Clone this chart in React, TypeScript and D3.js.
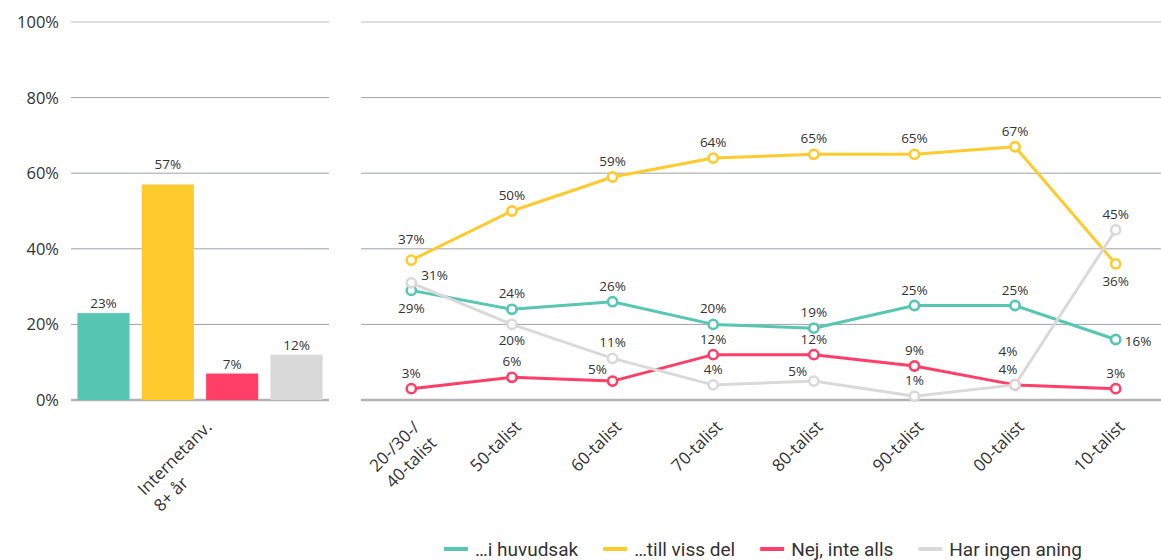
import React, { useEffect, useRef } from "react";
import * as d3 from "d3";

const W = 1161;
const H = 560;

const seriesNames = ["…i huvudsak", "…till viss del", "Nej, inte alls", "Har ingen aning"];
const seriesColors = ["#57C6B3", "#FFCA2E", "#FF3F68", "#D9D9D9"];

const barCategory = ["Internetanv.", "8+ år"];
const barValues = [23, 57, 7, 12];

const decades = ["20-/30-/\n40-talist", "50-talist", "60-talist", "70-talist", "80-talist", "90-talist", "00-talist", "10-talist"];
const iHuvudsak = [29, 24, 26, 20, 19, 25, 25, 16];
const tillVissDel = [37, 50, 59, 64, 65, 65, 67, 36];
const nejInteAlls = [3, 6, 5, 12, 12, 9, 4, 3];
const harIngenAning = [31, 20, 11, 4, 5, 1, 4, 45];
const lineSeries = [iHuvudsak, tillVissDel, nejInteAlls, harIngenAning];

const yTicks = [0, 20, 40, 60, 80, 100];

// label placement overrides (styling): key "series-index"
const labelOverrides: Record<string, { dx: number; dy: number; anchor: string }> = {
  "0-0": { dx: 0, dy: 23, anchor: "middle" },
  "1-0": { dx: 0, dy: -16, anchor: "middle" },
  "3-0": { dx: 10, dy: -3, anchor: "start" },
  "3-1": { dx: 0, dy: 21, anchor: "middle" },
  "2-2": { dx: -15, dy: -7, anchor: "middle" },
  "3-4": { dx: -16, dy: -5, anchor: "middle" },
  "2-6": { dx: -7, dy: -11, anchor: "middle" },
  "3-6": { dx: -7, dy: -29, anchor: "middle" },
  "1-7": { dx: 0, dy: 22, anchor: "middle" },
  "0-7": { dx: 9, dy: 6, anchor: "start" },
};

const FONT = "'Open Sans', Lato, sans-serif";
const TEXT = "#333333";

export default function App() {
  const ref = useRef<SVGSVGElement | null>(null);

  useEffect(() => {
    const svg = d3.select(ref.current);
    svg.selectAll("*").remove();

    const y = d3.scaleLinear().domain([0, 100]).range([400, 22]);
    const xBar = d3.scaleBand<string>().domain(seriesNames).range([71, 329]).paddingInner(0.19).paddingOuter(0.1);
    const xLine = d3.scalePoint<string>().domain(decades).range([361, 1166]).padding(0.5);

    const panels = [
      [71, 329],
      [361, 1161],
    ];

    // gridlines
    const grid = svg.append("g");
    panels.forEach(([a, b]) => {
      yTicks.forEach((t) => {
        grid
          .append("line")
          .attr("x1", a)
          .attr("x2", b)
          .attr("y1", y(t))
          .attr("y2", y(t))
          .attr("stroke", t === 0 ? "#b3b3b3" : t === 100 ? "#b9bcc1" : "#9da1a8")
          .attr("stroke-width", t === 0 ? 2.5 : 1);
      });
    });

    // y tick labels
    svg
      .append("g")
      .selectAll("text")
      .data(yTicks)
      .join("text")
      .attr("x", 59)
      .attr("y", (d) => y(d))
      .attr("dy", "0.36em")
      .attr("text-anchor", "end")
      .attr("font-family", FONT)
      .attr("font-size", 16.5)
      .attr("fill", TEXT)
      .text((d) => `${d}%`);

    // bars
    svg
      .append("g")
      .selectAll("rect")
      .data(barValues)
      .join("rect")
      .attr("x", (_, i) => xBar(seriesNames[i])!)
      .attr("width", xBar.bandwidth())
      .attr("y", (d) => y(d))
      .attr("height", (d) => y(0) - y(d))
      .attr("fill", (_, i) => seriesColors[i]);

    svg
      .append("g")
      .selectAll("text")
      .data(barValues)
      .join("text")
      .attr("x", (_, i) => xBar(seriesNames[i])! + xBar.bandwidth() / 2)
      .attr("y", (d) => y(d) - (d === 57 ? 16 : 5))
      .attr("text-anchor", "middle")
      .attr("font-family", FONT)
      .attr("font-size", 13.5)
      .attr("fill", TEXT)
      .text((d) => `${d}%`);

    // rotated category labels: block right-aligned at anchor, lines start-aligned
    const drawRotLabel = (lines: string[], cx: number) => {
      const ax = cx + 10;
      const ay = 428;
      const g = svg.append("g").attr("transform", `translate(${ax},${ay}) rotate(-45)`);
      const texts = lines.map((ln, i) =>
        g
          .append("text")
          .attr("y", i * 23)
          .attr("font-family", FONT)
          .attr("font-size", 17)
          .attr("fill", TEXT)
          .attr("text-anchor", "start")
          .text(ln)
      );
      const widths = texts.map((t) => (t.node() as SVGTextElement).getComputedTextLength());
      const maxW = Math.max(...widths);
      texts.forEach((t) => t.attr("x", -maxW));
    };

    drawRotLabel(barCategory, (71 + 329) / 2 + 3);
    decades.forEach((d) => drawRotLabel(d.split("\n"), xLine(d)!));

    // lines
    const lineGen = d3
      .line<number>()
      .x((_, i) => xLine(decades[i])!)
      .y((d) => y(d));

    lineSeries.forEach((vals, s) => {
      svg
        .append("path")
        .datum(vals)
        .attr("d", lineGen)
        .attr("fill", "none")
        .attr("stroke", seriesColors[s])
        .attr("stroke-width", 3)
        .attr("stroke-linejoin", "round");
      svg
        .append("g")
        .selectAll("circle")
        .data(vals)
        .join("circle")
        .attr("cx", (_, i) => xLine(decades[i])!)
        .attr("cy", (d) => y(d))
        .attr("r", 4.6)
        .attr("fill", "#fff")
        .attr("stroke", seriesColors[s])
        .attr("stroke-width", 2.6);
    });

    // data labels
    const lbl = svg.append("g");
    lineSeries.forEach((vals, s) => {
      vals.forEach((v, i) => {
        const o = labelOverrides[`${s}-${i}`] || { dx: 0, dy: -11, anchor: "middle" };
        lbl
          .append("text")
          .attr("x", xLine(decades[i])! + o.dx)
          .attr("y", y(v) + o.dy)
          .attr("text-anchor", o.anchor)
          .attr("font-family", FONT)
          .attr("font-size", 13.5)
          .attr("fill", TEXT)
          .text(`${v}%`);
      });
    });

    // legend
    const leg = svg.append("g");
    const items = seriesNames.map((name, i) => {
      const g = leg.append("g");
      g.append("line")
        .attr("x1", 0)
        .attr("x2", 24)
        .attr("y1", 0)
        .attr("y2", 0)
        .attr("stroke", seriesColors[i])
        .attr("stroke-width", 4);
      const t = g
        .append("text")
        .attr("x", 31)
        .attr("y", 0)
        .attr("dy", "0.36em")
        .attr("font-family", "Roboto, sans-serif")
        .attr("font-size", 19)
        .attr("fill", TEXT)
        .text(name);
      const w = (t.node() as SVGTextElement).getComputedTextLength();
      return { g, w: 31 + w };
    });
    const gap = 25;
    const total = items.reduce((a, b) => a + b.w, 0) + gap * (items.length - 1);
    let cx = 763 - total / 2;
    items.forEach((it) => {
      it.g.attr("transform", `translate(${cx},549)`);
      cx += it.w + gap;
    });
  }, []);

  return (
    <svg
      ref={ref}
      width={W}
      height={H}
      style={{ position: "absolute", left: 0, top: 0, display: "block", background: "#fff" }}
    />
  );
}
